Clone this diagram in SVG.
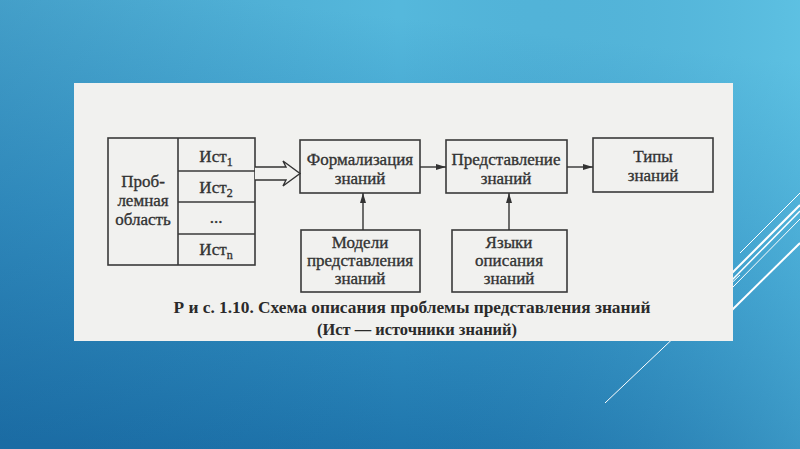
<svg xmlns="http://www.w3.org/2000/svg" width="800" height="449" viewBox="0 0 800 449">
<defs>
<linearGradient id="bg" x1="0.3" y1="0" x2="0.1" y2="1">
<stop offset="0" stop-color="#55b8dc"/>
<stop offset="0.5" stop-color="#3595c6"/>
<stop offset="1" stop-color="#1b70a8"/>
</linearGradient>
<linearGradient id="bg2" x1="0" y1="0" x2="1" y2="0">
<stop offset="0" stop-color="#1b5f96" stop-opacity="0.25"/>
<stop offset="0.5" stop-color="#1b5f96" stop-opacity="0"/>
<stop offset="1" stop-color="#6fd4f0" stop-opacity="0.3"/>
</linearGradient>
<marker id="ah" viewBox="0 0 10 6" refX="10" refY="3" markerWidth="10" markerHeight="6" markerUnits="userSpaceOnUse" orient="auto">
<path d="M0,0 L10,3 L0,6 Z" fill="#333"/>
</marker>
<style>
.box{fill:none;stroke:#3a3a3a;stroke-width:1.6}
.t{font-family:"Liberation Serif","DejaVu Serif",serif;font-size:17px;fill:#333;stroke:#333;stroke-width:0.35;text-anchor:middle}
.cap{font-family:"Liberation Serif","DejaVu Serif",serif;font-size:17px;font-weight:bold;fill:#2a2a2a;text-anchor:middle}
.con{stroke:#333;stroke-width:1.4;fill:none}
.deco{stroke:#ffffff;fill:none}
</style>
</defs>
<rect width="800" height="449" fill="url(#bg)"/>
<rect width="800" height="449" fill="url(#bg2)"/>
<g id="decor">
<line class="deco" x1="740" y1="253" x2="800" y2="193" stroke-width="1"/>
<line class="deco" x1="732" y1="273" x2="800" y2="205" stroke-width="2"/>
<line class="deco" x1="732" y1="280" x2="800" y2="211" stroke-width="1.5"/>
<line class="deco" x1="733" y1="287" x2="800" y2="219" stroke-width="1"/>
<line class="deco" x1="732" y1="310" x2="800" y2="243" stroke-width="2"/>
<line class="deco" x1="605" y1="403" x2="740" y2="275" stroke-width="1"/>
</g>
<rect id="scan" x="74" y="83" width="659" height="258" fill="#f1f1ef"/>
<g id="problem-area">
<rect class="box" x="108" y="138" width="147" height="127"/>
<line class="box" x1="178" y1="138" x2="178" y2="265"/>
<text class="t" x="143" y="187">Проб-</text>
<text class="t" x="143" y="206">лемная</text>
<text class="t" x="143" y="225">область</text>
</g>
<g id="sources">
<line class="box" x1="178" y1="171" x2="255" y2="171"/>
<line class="box" x1="178" y1="202" x2="255" y2="202"/>
<line class="box" x1="178" y1="234" x2="255" y2="234"/>
<text class="t" x="216" y="162">Ист<tspan font-size="12" dy="4">1</tspan></text>
<text class="t" x="216" y="193">Ист<tspan font-size="12" dy="4">2</tspan></text>
<text class="t" x="216" y="223">...</text>
<text class="t" x="216" y="255">Ист<tspan font-size="12" dy="4">n</tspan></text>
</g>
<g id="formalization">
<rect class="box" x="300" y="140" width="120" height="53"/>
<text class="t" x="360" y="165">Формализация</text>
<text class="t" x="360" y="184">знаний</text>
</g>
<g id="representation">
<rect class="box" x="446" y="140" width="121" height="53"/>
<text class="t" x="506" y="165">Представление</text>
<text class="t" x="506" y="184">знаний</text>
</g>
<g id="types">
<rect class="box" x="593" y="138" width="120" height="54"/>
<text class="t" x="653" y="162">Типы</text>
<text class="t" x="653" y="181">знаний</text>
</g>
<g id="models">
<rect class="box" x="301" y="230" width="119" height="62"/>
<text class="t" x="360" y="248">Модели</text>
<text class="t" x="360" y="266">представления</text>
<text class="t" x="360" y="284">знаний</text>
</g>
<g id="languages">
<rect class="box" x="452" y="230" width="115" height="62"/>
<text class="t" x="509" y="248">Языки</text>
<text class="t" x="509" y="266">описания</text>
<text class="t" x="509" y="284">знаний</text>
</g>
<g id="connectors">
<path d="M255,167 L286,167 L283,161 L300,173.5 L283,186 L286,180 L255,180" fill="#f1f1ef" stroke="#333" stroke-width="1.4"/>
<line class="con" x1="420" y1="167" x2="446" y2="167" marker-end="url(#ah)"/>
<line class="con" x1="567" y1="167" x2="593" y2="167" marker-end="url(#ah)"/>
<line class="con" x1="363" y1="230" x2="363" y2="193" marker-end="url(#ah)"/>
<line class="con" x1="509" y1="230" x2="509" y2="193" marker-end="url(#ah)"/>
</g>
<g id="caption">
<text class="cap" x="412" y="313" textLength="477" lengthAdjust="spacingAndGlyphs">Р и с. 1.10. Схема описания проблемы представления знаний</text>
<text class="cap" x="417" y="335" textLength="200" lengthAdjust="spacingAndGlyphs">(Ист — источники знаний)</text>
</g>
</svg>
